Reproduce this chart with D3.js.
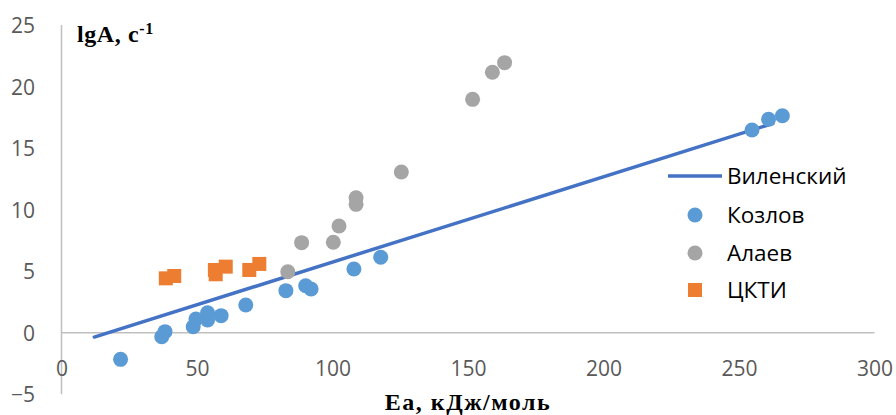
<!DOCTYPE html>
<html>
<head>
<meta charset="utf-8">
<script src="https://cdn.jsdelivr.net/npm/d3@7"></script>
<style>
  html, body { margin: 0; padding: 0; background: #fff; }
  svg { display: block; }
</style>
</head>
<body>
<svg id="chart" width="896" height="415"></svg>
<script>
// Axis ticks
const xTicks = [0, 50, 100, 150, 200, 250, 300];
const yTicks = [-5, 0, 5, 10, 15, 20, 25];

// Виленский: straight correlation line
const vilenskyE = [12.1, 262.5];
const vilenskyLgA = [-0.35, 17.0];

// Козлов
const kozlovE =   [21.8, 37.0, 38.2, 48.6, 49.6, 53.9, 53.9, 58.9, 68.0, 82.8, 90.1, 92.1, 107.9, 117.8, 254.8, 260.9, 266.0];
const kozlovLgA = [-2.16, -0.32, 0.09, 0.49, 1.12, 1.63, 1.04, 1.39, 2.25, 3.42, 3.82, 3.55, 5.18, 6.13, 16.47, 17.34, 17.63];

// Алаев
const alaevE =   [83.5, 88.6, 100.3, 102.4, 108.7, 108.7, 125.4, 151.7, 159.0, 163.5];
const alaevLgA = [4.96, 7.32, 7.35, 8.67, 10.97, 10.43, 13.06, 18.96, 21.16, 21.94];

// ЦКТИ
const cktiE =   [38.5, 41.6, 56.6, 56.9, 60.6, 69.3, 73.0];
const cktiLgA = [4.42, 4.61, 5.10, 4.75, 5.37, 5.10, 5.59];

const legendNames = ["Виленский", "Козлов", "Алаев", "ЦКТИ"];

const colors = {
  line: "#4472C4",
  kozlov: "#5B9BD5",
  alaev: "#A5A5A5",
  ckti: "#ED7D31",
  axis: "#BFBFBF",
  tick: "#595959"
};

const zip = (xs, ys) => xs.map((x, i) => ({ x, y: ys[i] }));

const svg = d3.select("#chart");
const x = d3.scaleLinear().domain([0, 300]).range([61.5, 874.5]);
const y = d3.scaleLinear().domain([-5, 25]).range([394.3, 25]);

const tickFont = "'Open Sans', sans-serif";
const titleFont = "'Liberation Serif', 'Times New Roman', serif";

// Vertical axis line at x = 0
svg.append("line")
  .attr("x1", x(0)).attr("x2", x(0))
  .attr("y1", y(25)).attr("y2", y(-5))
  .attr("stroke", colors.axis).attr("stroke-width", 1.5);

// Horizontal axis line at y = 0
svg.append("line")
  .attr("x1", x(0)).attr("x2", x(300))
  .attr("y1", y(0)).attr("y2", y(0))
  .attr("stroke", colors.axis).attr("stroke-width", 1.5);

// Y tick labels
const yAxis = d3.axisLeft(y).tickValues(yTicks).tickSize(0).tickPadding(0).tickFormat(d3.format("d"));
const gy = svg.append("g").attr("transform", "translate(35,0)").call(yAxis);
gy.select(".domain").remove();
gy.selectAll("text")
  .attr("font-family", tickFont).attr("font-size", 21)
  .attr("fill", colors.tick).attr("dy", "0.36em");

// X tick labels, placed below the zero line
const xAxis = d3.axisBottom(x).tickValues(xTicks).tickSize(0).tickPadding(0).tickFormat(d3.format("d"));
const gx = svg.append("g").attr("transform", "translate(0,368)").call(xAxis);
gx.select(".domain").remove();
gx.selectAll("text")
  .attr("font-family", tickFont).attr("font-size", 21)
  .attr("fill", colors.tick).attr("dy", "0.36em");

// Виленский line
const lineGen = d3.line().x(d => x(d.x)).y(d => y(d.y));
svg.append("path")
  .datum(zip(vilenskyE, vilenskyLgA))
  .attr("d", lineGen)
  .attr("fill", "none")
  .attr("stroke", colors.line)
  .attr("stroke-width", 3.5)
  .attr("stroke-linecap", "round");

// Алаев points
svg.append("g").selectAll("circle")
  .data(zip(alaevE, alaevLgA)).join("circle")
  .attr("cx", d => x(d.x)).attr("cy", d => y(d.y)).attr("r", 7.5)
  .attr("fill", colors.alaev);

// ЦКТИ points
const sq = 14;
svg.append("g").selectAll("rect")
  .data(zip(cktiE, cktiLgA)).join("rect")
  .attr("x", d => x(d.x) - sq / 2).attr("y", d => y(d.y) - sq / 2)
  .attr("width", sq).attr("height", sq)
  .attr("fill", colors.ckti);

// Козлов points
svg.append("g").selectAll("circle")
  .data(zip(kozlovE, kozlovLgA)).join("circle")
  .attr("cx", d => x(d.x)).attr("cy", d => y(d.y)).attr("r", 7.5)
  .attr("fill", colors.kozlov);

// Axis titles
const yTitle = svg.append("text")
  .attr("x", 77).attr("y", 42)
  .attr("font-family", titleFont)
  .attr("font-weight", "bold").attr("font-size", 24)
  .attr("letter-spacing", 0.6).attr("fill", "#000");
yTitle.append("tspan").text("lgA, c");
yTitle.append("tspan").attr("dy", -8).attr("font-size", 16).text("-1");

svg.append("text")
  .attr("x", 468).attr("y", 410)
  .attr("text-anchor", "middle")
  .attr("font-family", titleFont)
  .attr("font-weight", "bold").attr("font-size", 24)
  .attr("letter-spacing", 1.5).attr("fill", "#000")
  .text("Ea, кДж/моль");

// Legend
const legendRows = [176, 215, 253, 290];
const legend = svg.append("g");
legend.append("line")
  .attr("x1", 668).attr("x2", 722)
  .attr("y1", legendRows[0]).attr("y2", legendRows[0])
  .attr("stroke", colors.line).attr("stroke-width", 3.5);
legend.append("circle").attr("cx", 695).attr("cy", legendRows[1]).attr("r", 7.5).attr("fill", colors.kozlov);
legend.append("circle").attr("cx", 695).attr("cy", legendRows[2]).attr("r", 7.5).attr("fill", colors.alaev);
legend.append("rect").attr("x", 688).attr("y", legendRows[3] - 7).attr("width", 14).attr("height", 14).attr("fill", colors.ckti);
legend.selectAll("text.lg")
  .data(legendNames).join("text")
  .attr("class", "lg")
  .attr("x", 727).attr("y", (d, i) => legendRows[i])
  .attr("dy", "0.36em")
  .attr("font-family", tickFont).attr("font-size", 22.5)
  .attr("fill", "#000")
  .text(d => d);
</script>
</body>
</html>
